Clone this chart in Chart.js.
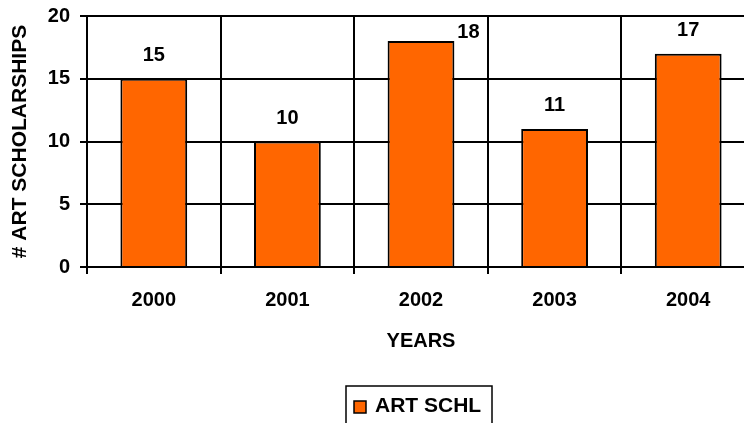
<!DOCTYPE html>
<html lang="en">
<head>
<meta charset="UTF-8">
<title>Art scholarships</title>
<script src="https://cdn.jsdelivr.net/npm/chart.js@4/dist/chart.umd.min.js"></script>
<style>
  html, body { margin: 0; padding: 0; background: #fff; overflow: hidden; }
  #wrap { width: 744px; height: 423px; overflow: hidden; }
</style>
</head>
<body>
<div id="wrap"><canvas id="myChart" width="755" height="423"></canvas></div>
<script>
  // data
  const years = ["2000", "2001", "2002", "2003", "2004"];
  const artSchl = [15, 10, 18, 11, 17];
  const yTicks = [0, 5, 10, 15, 20];

  const FONT = "'Liberation Sans', Arial, sans-serif";
  const ORANGE = "#FF6600";

  // value labels above the bars, pushed to the side when they would hit the top
  const valueLabels = {
    id: "valueLabels",
    afterDatasetsDraw(chart) {
      const ctx = chart.ctx;
      const meta = chart.getDatasetMeta(0);
      ctx.save();
      ctx.font = "bold 20px " + FONT;
      ctx.fillStyle = "#000";
      ctx.textAlign = "center";
      ctx.textBaseline = "middle";
      meta.data.forEach((bar, i) => {
        let x = bar.x, y = bar.y - 23;
        if (y < chart.chartArea.top + 7) {
          x = bar.x + bar.width / 2 + 14;
          y = bar.y - 9;
        }
        ctx.fillText(String(artSchl[i]), x, y);
      });
      ctx.restore();
    }
  };

  // boxed legend under the axis title
  const boxLegend = {
    id: "boxLegend",
    afterDraw(chart) {
      const ctx = chart.ctx;
      const a = chart.chartArea;
      const cx = (a.left + a.right) / 2 - 2;
      const w = 146, top = 386;
      ctx.save();
      ctx.strokeStyle = "#000";
      ctx.lineWidth = 1.5;
      ctx.strokeRect(cx - w / 2, top, w, 60);
      ctx.fillStyle = ORANGE;
      ctx.fillRect(cx - w / 2 + 8, 401, 12, 12);
      ctx.strokeRect(cx - w / 2 + 8, 401, 12, 12);
      ctx.fillStyle = "#000";
      ctx.font = "bold 21px " + FONT;
      ctx.textAlign = "left";
      ctx.textBaseline = "middle";
      ctx.fillText(chart.data.datasets[0].label, cx - w / 2 + 29, 406);
      ctx.restore();
    }
  };

  const config = {
    type: "bar",
    data: {
      labels: years,
      datasets: [{
        label: "ART SCHL",
        data: artSchl,
        backgroundColor: ORANGE,
        borderColor: "#000",
        borderWidth: 2,
        barPercentage: 0.5,
        categoryPercentage: 1
      }]
    },
    options: {
      responsive: false,
      devicePixelRatio: 1,
      animation: false,
      layout: { padding: { top: 16, left: 0, right: 0, bottom: 60 } },
      plugins: {
        legend: { display: false },
        tooltip: { enabled: false }
      },
      scales: {
        x: {
          grid: { color: "#000", lineWidth: 2, tickLength: 7, offset: true },
          border: { color: "#000", width: 2 },
          ticks: { color: "#000", font: { family: FONT, size: 20, weight: "bold" }, padding: 14 },
          title: {
            display: true, text: "YEARS", color: "#000",
            font: { family: FONT, size: 20, weight: "bold" },
            padding: { top: 4, bottom: 10 }
          },
          afterFit(s) { s.height = 96; s.paddingLeft = 0; s.paddingRight = 0; }
        },
        y: {
          min: 0, max: 20,
          afterBuildTicks(s) { s.ticks = yTicks.map(v => ({ value: v })); },
          grid: { color: "#000", lineWidth: 2, tickLength: 7 },
          border: { color: "#000", width: 2 },
          ticks: { color: "#000", font: { family: FONT, size: 20, weight: "bold" }, padding: 10 },
          title: {
            display: true, text: "# ART SCHOLARSHIPS", color: "#000",
            font: { family: FONT, size: 21, weight: "bold" },
            padding: { top: 8, bottom: 4 }
          },
          afterFit(s) { s.width = 87; s.paddingTop = 0; s.paddingBottom = 0; }
        }
      }
    },
    plugins: [valueLabels, boxLegend]
  };

  new Chart(document.getElementById("myChart"), config);
</script>
</body>
</html>
